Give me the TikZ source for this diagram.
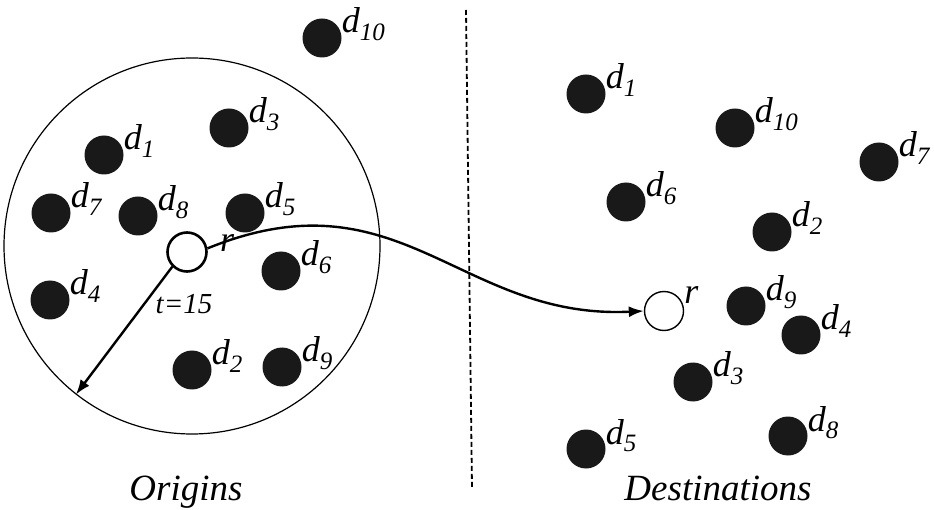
\documentclass[tikz,border=0pt]{standalone}
\usepackage{fontspec}
\setmainfont{Liberation Serif}[ItalicFont={Liberation Serif Italic}]
\newfontfamily\tms{Liberation Serif}[ItalicFont={Liberation Serif Italic}]
\usepackage{tikz}
\usetikzlibrary{arrows.meta, positioning}

\newcommand{\dsub}[1]{d\raisebox{-0.22em}{\fontsize{25}{27}\selectfont\tms\itshape #1}}

\tikzset{
  dot/.style={circle, fill=black!90, draw=none, minimum size=39pt, inner sep=0pt},
  hollow/.style={circle, draw=black, fill=white, minimum size=39pt, inner sep=0pt},
  lbl/.style={font=\fontsize{36}{38}\selectfont\tms\itshape, inner sep=0pt, anchor=base west},
  side/.style={font=\fontsize{37}{40}\selectfont\tms\itshape, inner sep=0pt, anchor=base},
  flow/.style={line width=2.4pt, -{Latex[length=15pt,width=11pt]}},
}

\begin{document}
\begin{tikzpicture}[x=1pt, y=-1pt]
  \useasboundingbox (0,0) rectangle (934,510);

  % divider
  \coordinate (divtop) at (466,10);
  \coordinate (divbot) at (472,488);
  \draw[line width=1.8pt, dash pattern=on 5pt off 3pt] (divtop) -- (divbot);

  % search area round the request
  \node[circle, draw, line width=1.2pt, minimum size=376pt, inner sep=0pt] (area) at (192,246) {};

  % origins
  \foreach \n/\x/\y/\s in {o10/322/38/10, o1/104/155/1, o3/229/128/3, o7/51/213/7,
                           o8/138/216/8, o5/245/213/5, o6/281/271/6, o4/50/300/4,
                           o2/192/370/2, o9/282/367/9} {
    \node[dot] (\n) at (\x,\y) {};
    \node[lbl] (\n-l) at ([yshift=5pt]\n.east) {\dsub{\s}};
  }

  % destinations
  \foreach \n/\x/\y/\s in {e1/586/94/1, e10/735/128/10, e7/879/162/7, e6/626/202/6,
                           e2/772/232/2, e9/746/306/9, e4/801/335/4, e3/693/382/3,
                           e8/788/436/8, e5/586/449/5} {
    \node[dot] (\n) at (\x,\y) {};
    \node[lbl] (\n-l) at ([yshift=5pt]\n.east) {\dsub{\s}};
  }

  % request r
  \node[hollow, line width=2.6pt] (rq) at (187,252) {};
  \node[lbl] (rq-l) at ([xshift=12pt,yshift=0pt]rq.east) {r};
  \node[hollow, line width=1.4pt] (rd) at (664,311) {};
  \node[lbl] (rd-l) at ([yshift=7pt]rd.east) {r};

  % radius and trip
  \coordinate (rim) at (area.232);
  \draw[flow] (rq.225) -- (rim);
  \node[font=\fontsize{29}{31}\selectfont\tms\itshape, inner sep=0pt, anchor=base] (tl) at (184,314) {t=15};
  \draw[flow] (rq.10) .. controls (400,170) and (460,320) .. (rd.west);

  \node[side] (orig) at (186,500) {Origins};
  \node[side] (dest) at (718,500) {Destinations};
\end{tikzpicture}
\end{document}
